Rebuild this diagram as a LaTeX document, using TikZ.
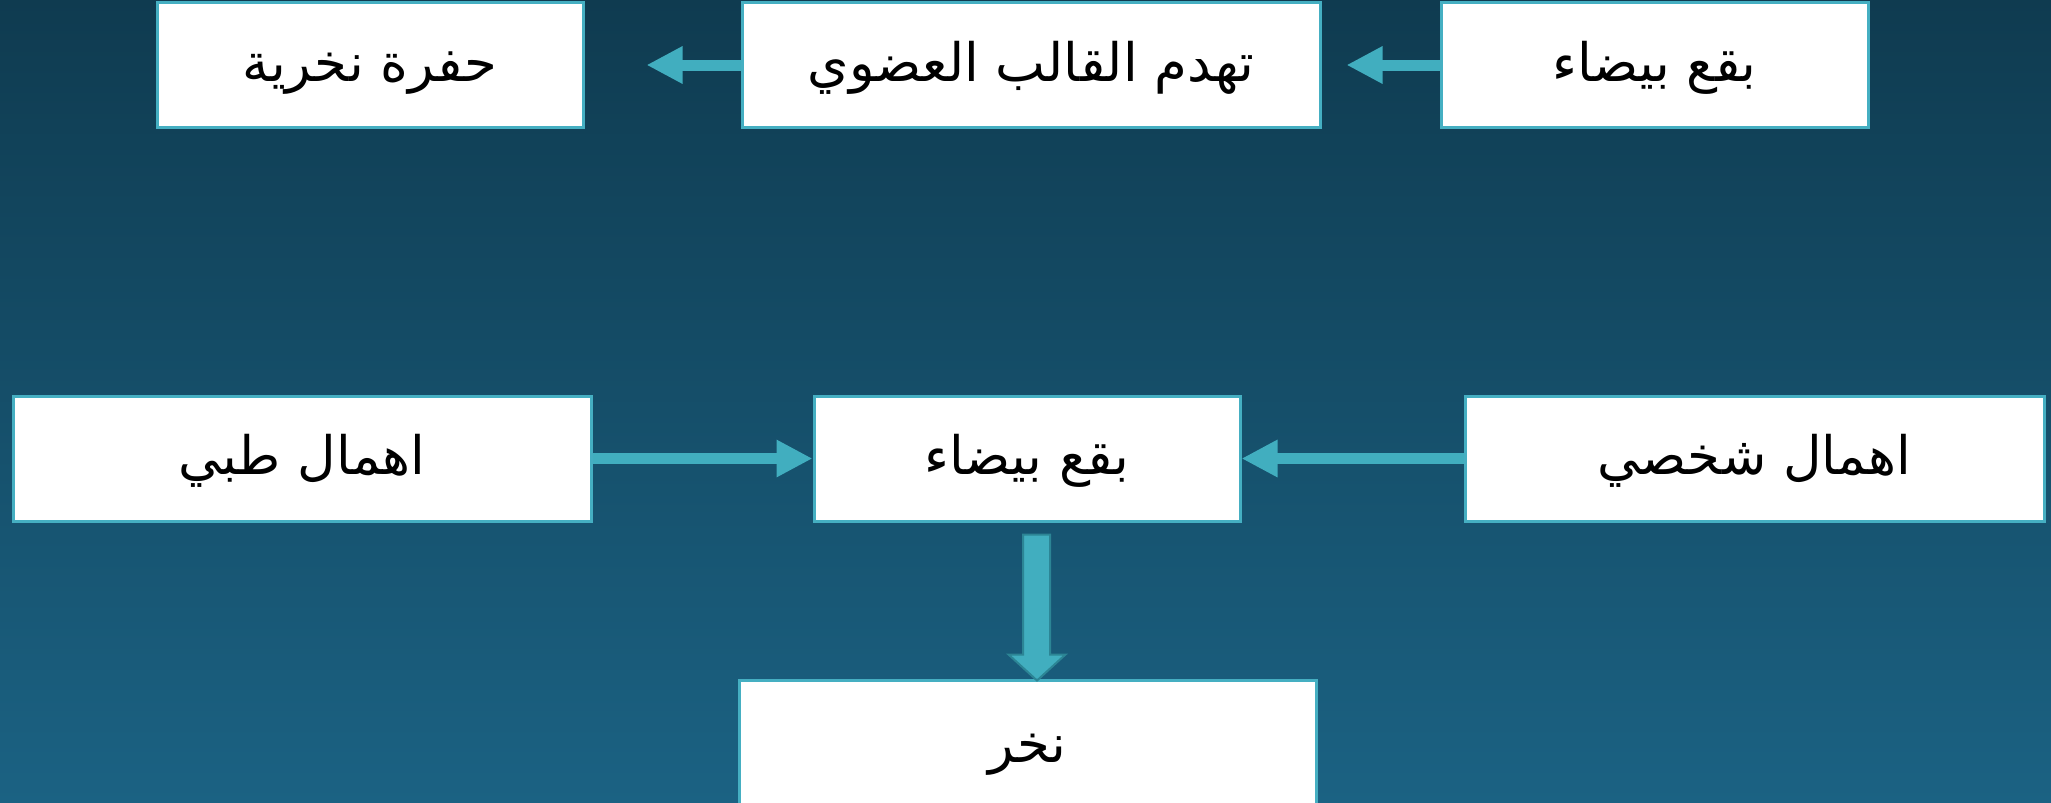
\documentclass[tikz,border=0pt]{standalone}
\usepackage{fontspec}
\usetikzlibrary{arrows.meta,calc}
\TeXXeTstate=1
\newfontfamily\arabicfont[Script=Arabic]{DejaVu Sans}
\definecolor{bgtop}{HTML}{0F3B50}
\definecolor{bgbot}{HTML}{1B6283}
\definecolor{boxline}{HTML}{45AFC2}
\definecolor{arrowfill}{HTML}{41AEBF}
\definecolor{arrowedge}{HTML}{2C8595}
\tikzset{
  box/.style={draw=boxline, line width=1.5pt, fill=white, inner sep=0pt,
    minimum height=62.5pt, text height=20pt, text depth=4pt,
    font=\arabicfont\fontsize{26.5}{30}\selectfont},
  harrow/.style={draw=arrowfill, line width=5.5pt,
    -{Triangle[length=18pt,width=17.5pt]}},
  darrow/.style={fill=arrowfill, draw=arrowedge, line width=1pt, line join=miter},
}
\begin{document}
\begin{tikzpicture}[x=0.5pt,y=-0.5pt]
\useasboundingbox (0,0) rectangle (2051,803);
\shade[top color=bgtop, bottom color=bgbot] (0,0) rectangle (2051,803);
% top row
\node[box, minimum width=213.5pt] (tr) at (1654.5,65) {\beginR بقع بيضاء\endR};
\node[box, minimum width=289pt] (tm) at (1031,65) {\beginR تهدم القالب العضوي\endR};
\node[box, minimum width=213pt] (tl) at (370,65) {\beginR حفرة نخرية\endR};
% middle row
\node[box, minimum width=289pt] (ml) at (302,458.5) {\beginR اهمال طبي\endR};
\node[box, minimum width=213pt] (mc) at (1027,458.5) {\beginR بقع بيضاء\endR};
\node[box, minimum width=289.5pt] (mr) at (1754.5,458.5) {\beginR اهمال شخصي\endR};
% bottom
\node[box, minimum width=288.5pt, minimum height=66pt] (bt) at (1027.5,746) {\beginR نخر\endR};
% arrows
\draw[harrow, shorten >=12.5pt] (tr.west) -- (tm.east);
\draw[harrow, shorten >=31pt] (tm.west) -- (tl.east);
\draw[harrow] (ml.east) -- (mc.west);
\draw[harrow] (mr.west) -- (mc.east);
\draw[darrow] ($(mc.south)+(-4,12)$) -- ($(mc.south)+(23,12)$)
  -- ($(bt.north)+(22.5,-24)$) -- ($(bt.north)+(38,-24)$)
  -- ($(bt.north)+(9.5,2)$) -- ($(bt.north)+(-19,-24)$)
  -- ($(bt.north)+(-4.5,-24)$) -- cycle;
\end{tikzpicture}
\end{document}
